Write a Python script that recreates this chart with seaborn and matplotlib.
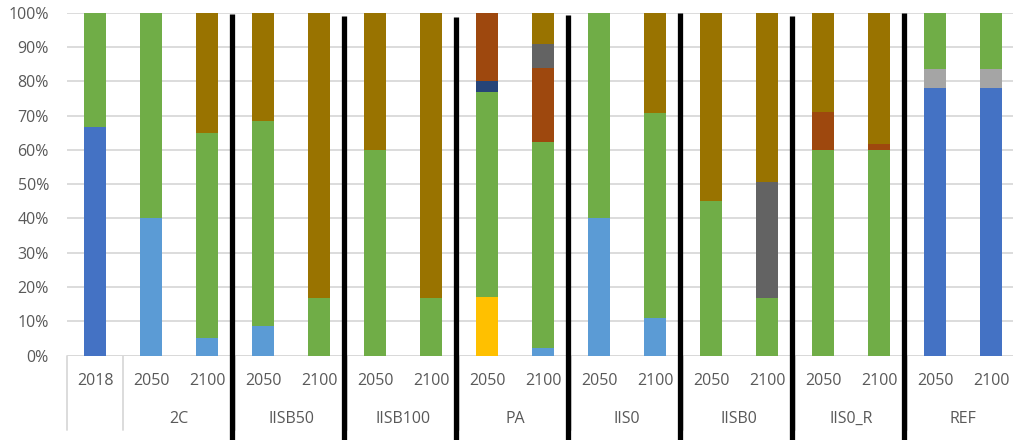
import numpy as np
import pandas as pd
import matplotlib
matplotlib.use("Agg")
import matplotlib.pyplot as plt
import matplotlib.transforms as mtransforms
import seaborn as sns

# bars (left to right) and their two-level labels
bar_ids = ["2018", "2C_2050", "2C_2100", "IISB50_2050", "IISB50_2100",
           "IISB100_2050", "IISB100_2100", "PA_2050", "PA_2100",
           "IIS0_2050", "IIS0_2100", "IISB0_2050", "IISB0_2100",
           "IIS0_R_2050", "IIS0_R_2100", "REF_2050", "REF_2100"]
year_labels = ["2018"] + ["2050", "2100"] * 8
groups = ["2C", "IISB50", "IISB100", "PA", "IIS0", "IISB0", "IIS0_R", "REF"]

# segment shares (%) per series, bottom to top
s1 = [66.7, 0, 0, 0, 0, 0, 0, 0, 0, 0, 0, 0, 0, 0, 0, 78, 78]
s3 = [0, 0, 0, 0, 0, 0, 0, 0, 0, 0, 0, 0, 0, 0, 0, 5.5, 5.5]
s4 = [0, 0, 0, 0, 0, 0, 0, 17, 0, 0, 0, 0, 0, 0, 0, 0, 0]
s5 = [0, 40, 5, 8.5, 0, 0, 0, 0, 2.3, 40, 10.8, 0, 0, 0, 0, 0, 0]
s6 = [33.3, 60, 60, 60, 16.7, 60, 16.7, 60, 60, 60, 60, 45, 16.7, 60, 60, 16.5, 16.5]
s7 = [0, 0, 0, 0, 0, 0, 0, 3, 0, 0, 0, 0, 0, 0, 0, 0, 0]
s8 = [0, 0, 0, 0, 0, 0, 0, 20, 21.5, 0, 0, 0, 0, 11, 1.6, 0, 0]
s9 = [0, 0, 0, 0, 0, 0, 0, 0, 7.2, 0, 0, 0, 33.8, 0, 0, 0, 0]
s10 = [0, 0, 35, 31.5, 83.3, 40, 83.3, 0, 9, 0, 29.2, 55, 49.5, 29, 38.4, 0, 0]

series = [s1, s3, s4, s5, s6, s7, s8, s9, s10]
colors = ["#4472C4", "#A5A5A5", "#FFC000", "#5B9BD5", "#70AD47",
          "#264478", "#9E480E", "#636363", "#997300"]

sns.set_style("white")
plt.rcParams["font.family"] = ["Open Sans", "DejaVu Sans"]
txt_color = "#595959"
fs = 11.5

fig = plt.figure(figsize=(10.13, 4.4), dpi=100)
ax = fig.add_axes([67 / 1013, 84.5 / 440, 952 / 1013, 342.8 / 440])

# stacked bars via bottoms
bottom = np.zeros(len(bar_ids))
for vals, c in zip(series, colors):
    vals = np.array(vals, dtype=float)
    df = pd.DataFrame({"bar": bar_ids, "val": vals})
    sns.barplot(data=df, x="bar", y="val", order=bar_ids, bottom=bottom,
                color=c, width=0.41, linewidth=0, saturation=1, ax=ax,
                errorbar=None, zorder=3)
    bottom = bottom + vals

ax.set_xlim(-0.5, 16.5)
ax.set_ylim(0, 100)
ax.set_yticks(np.arange(0, 101, 10))
ax.set_yticklabels([f"{v}%" for v in range(0, 101, 10)], color=txt_color, fontsize=fs)
ax.tick_params(axis="y", length=0, pad=13)
ax.set_xticks([])
ax.set_xlabel("")
ax.set_ylabel("")
ax.grid(axis="y", color="#D9D9D9", linewidth=1.3, zorder=0)
for sp in ax.spines.values():
    sp.set_visible(False)
ax.axhline(0, color="#D9D9D9", linewidth=1.3, zorder=1)

# two-level category axis
trans = mtransforms.blended_transform_factory(ax.transData, ax.transAxes)
px = 1 / 342.8
for i, lab in enumerate(year_labels):
    ax.text(i, -25 * px, lab, transform=trans, ha="center", va="center",
            fontsize=fs, color=txt_color)
for g, name in enumerate(groups):
    ax.text(1.5 + 2 * g, -63 * px, name, transform=trans, ha="center",
            va="center", fontsize=fs, color=txt_color)

dividers = [-0.5, 0.5] + [2.5 + 2 * k for k in range(7)]
for x in dividers:
    ax.plot([x, x], [0, -74 * px], transform=trans, color="#D9D9D9",
            linewidth=1.3, clip_on=False, zorder=1)

# thick black separators between scenarios
sep_tops = [14, 16, 17, 15, 13, 16, 13]
for k, top in enumerate(sep_tops):
    x = 2.5 + 2 * k - 0.05
    ax.plot([x, x], [(355.5 - top) * px, -90 * px], transform=trans,
            color="black", linewidth=3.8, clip_on=False, zorder=5,
            solid_capstyle="butt")

fig.savefig("out.png", dpi=100)
